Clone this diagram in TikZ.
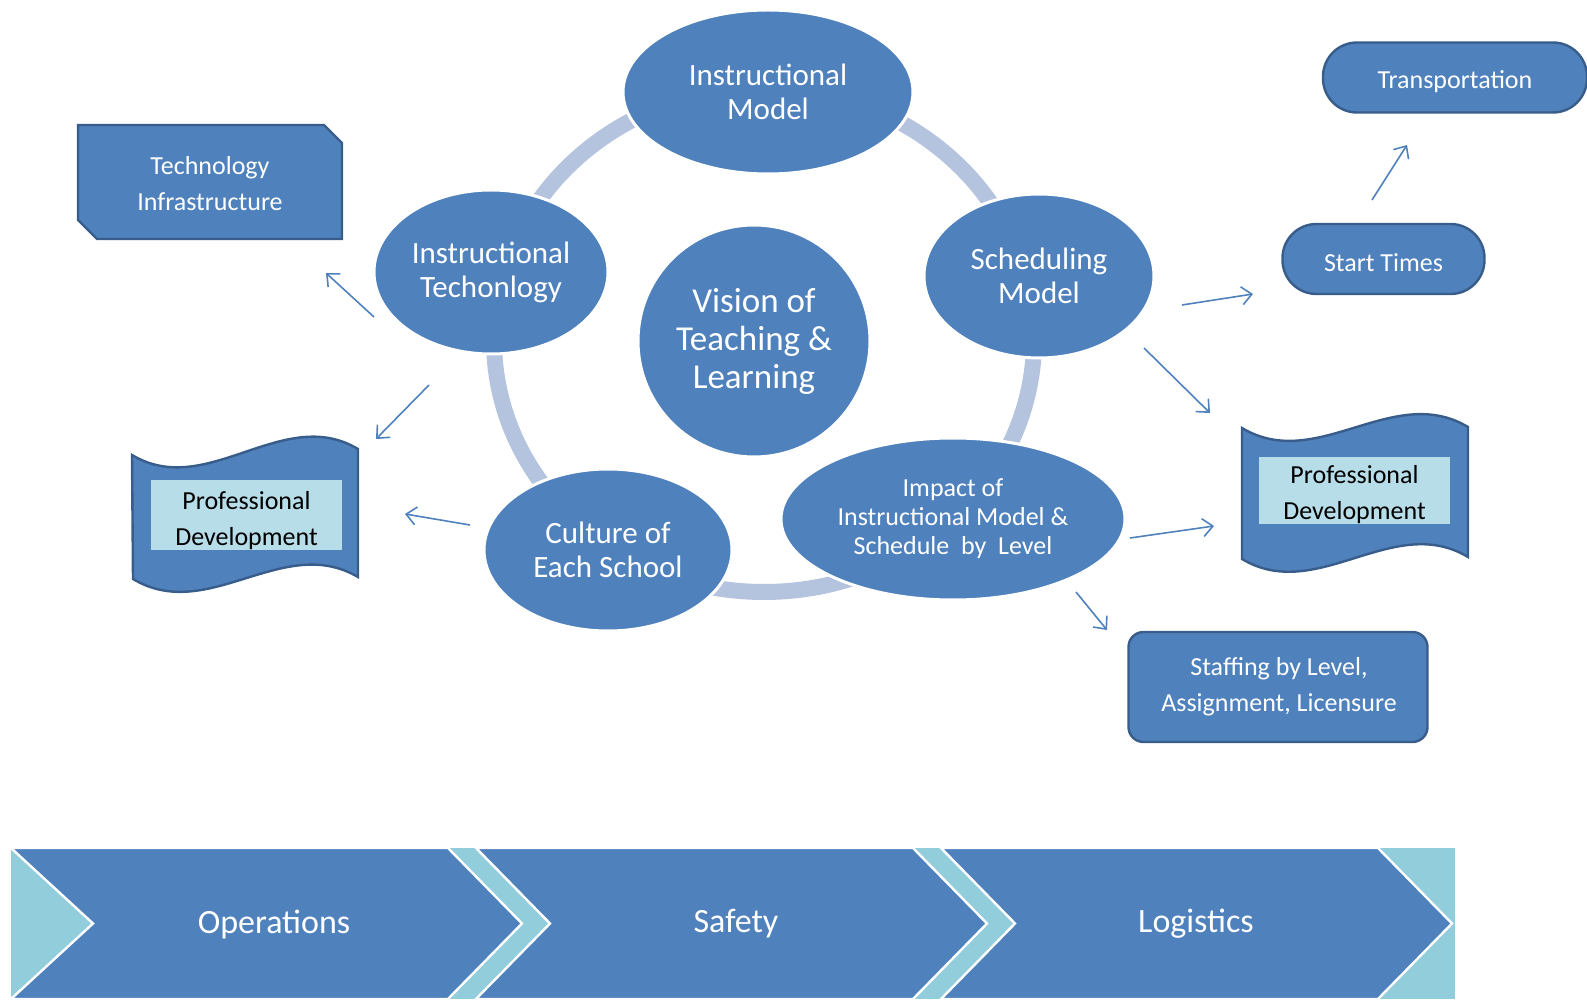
\documentclass[tikz,border=0pt]{standalone}
\usepackage{fontspec}
\setmainfont{Carlito}
\usetikzlibrary{arrows.meta,shapes.geometric}
\definecolor{blu}{HTML}{4F81BD}
\definecolor{dblu}{HTML}{385D8A}
\definecolor{ringc}{HTML}{B4C3DE}
\definecolor{lcyan}{HTML}{92CDDC}
\definecolor{pale}{HTML}{B7DDE8}
\begin{document}
\begin{tikzpicture}[x=0.5pt,y=-0.5pt,
  ell/.style={ellipse, fill=blu, draw=white, line width=1.5pt, text=white, inner sep=0pt, align=center, font=\fontsize{15.5}{17}\selectfont},
  boxline/.style={fill=blu, draw=dblu, line width=1.2pt},
  pill/.style={boxline, inner sep=0pt},
  wtext/.style={text=white, align=center, inner sep=0pt, font=\fontsize{13}{18}\selectfont},
  pdbox/.style={fill=pale, inner sep=0pt},
  pdtext/.style={inner sep=0pt, align=center, text=black, font=\fontsize{13}{18}\selectfont},
  chev/.style={fill=blu, draw=white, line width=1.2pt, line join=miter},
  chevtext/.style={text=white, inner sep=0pt, font=\fontsize{17}{20}\selectfont},
  arr/.style={draw=blu, line width=0.8pt, -{Straight Barb[length=5pt,width=9pt]}}
]
\useasboundingbox (0,0) rectangle (1587,1000);

% ring
\draw[ringc, line width=8pt] (764,340) ellipse [x radius=270, y radius=252];

% ellipses
\node[ell, minimum width=145pt, minimum height=82pt] (im) at (768,92) {Instructional\\Model};
\node[ell, minimum width=115pt, minimum height=82pt] (sm) at (1039,276) {Scheduling\\Model};
\node[ell, minimum width=172pt, minimum height=81pt, font=\fontsize{13}{14.5}\selectfont] (imp) at (953,519) {Impact of\\Instructional Model \&\\Schedule \ by \ Level};
\node[ell, minimum width=124pt, minimum height=81pt] (cul) at (608,550) {Culture of\\Each School};
\node[ell, minimum width=117pt, minimum height=82pt] (it) at (491,272) {Instructional\\Techonlogy};
\node[ell, minimum width=116pt, minimum height=116pt, font=\fontsize{17.5}{19}\selectfont] (vis) at (754,341) {Vision of\\Teaching \&\\Learning};

% technology infrastructure
\draw[boxline] (78,125) -- (324,125) -- (342,143) -- (342,239) -- (97,239) -- (78,220) -- cycle;
\node[wtext] (ti) at (210,184) {Technology\\Infrastructure};

% professional development left
\draw[boxline] (132,455) .. controls (207,500) and (283,404) .. (358,449) -- (358,577) .. controls (283,533) and (208,624) .. (133,579) -- cycle;
\node[pdbox, minimum width=95.5pt, minimum height=35pt] (pdl) at (246.5,515) {};
\node[pdtext] (pdlt) at (246.5,521) {Professional\\Development};

% professional development right
\draw[boxline] (1242,428) .. controls (1317,473) and (1393,382) .. (1468,427) -- (1468,557) .. controls (1393,512) and (1317,604) .. (1242,559) -- cycle;
\node[pdbox, minimum width=95.5pt, minimum height=33.5pt] (pdr) at (1354.5,490.5) {};
\node[pdtext] (pdrt) at (1354.5,494.5) {Professional\\Development};

% pills
\node[pill, rounded corners=17pt, minimum width=101pt, minimum height=35pt] (st) at (1383.5,259) {};
\node[wtext] (stl) at (1383.5,263) {Start Times};
\node[pill, rounded corners=17pt, minimum width=132pt, minimum height=35pt] (tr) at (1455,77.5) {};
\node[wtext] (trl) at (1455,82) {Transportation};
\node[pill, rounded corners=7.5pt, minimum width=149.5pt, minimum height=55pt] (sf) at (1278,687) {};
\node[wtext] (sfl) at (1279,687) {Staffing by Level,\\Assignment, Licensure};

% arrows
\coordinate (a1s) at (374,317); \coordinate (a1e) at (326,273);
\coordinate (a2s) at (429,385); \coordinate (a2e) at (376,439);
\coordinate (a3s) at (470,525); \coordinate (a3e) at (405,514);
\coordinate (a4s) at (1182,305); \coordinate (a4e) at (1253,294);
\coordinate (a5s) at (1144,348); \coordinate (a5e) at (1210,413);
\coordinate (a6s) at (1130,538); \coordinate (a6e) at (1214,526);
\coordinate (a7s) at (1076,592); \coordinate (a7e) at (1107,630);
\coordinate (a8s) at (1372,200); \coordinate (a8e) at (1407,145);
\foreach \i in {1,...,8} {\draw[arr] (a\i s) -- (a\i e);}

% chevron band
\fill[lcyan] (11,848) rectangle (1455,999);
\draw[chev] (11,848) -- (448,848) -- (522,923.5) -- (448,999) -- (11,999) -- (93,923.5) -- cycle;
\draw[chev] (476,848) -- (913,848) -- (987,923.5) -- (913,999) -- (476,999) -- (550,923.5) -- cycle;
\draw[chev] (941,848) -- (1378,848) -- (1452,923.5) -- (1378,999) -- (941,999) -- (1015,923.5) -- cycle;
\node[chevtext] (op) at (274,924) {Operations};
\node[chevtext] (sa) at (736,924) {Safety};
\node[chevtext] (lo) at (1196,924) {Logistics};
\end{tikzpicture}
\end{document}
